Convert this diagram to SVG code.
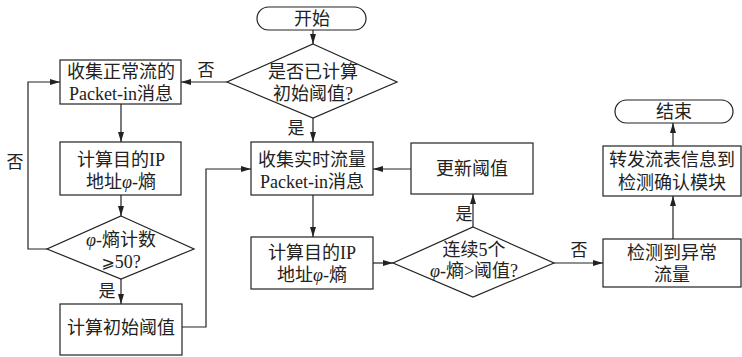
<svg xmlns="http://www.w3.org/2000/svg" width="742" height="357" viewBox="0 0 742 357">
  <style>
    .shape { fill: #fff; stroke: #222; stroke-width: 1.2; }
    .edge { fill: none; stroke: #222; stroke-width: 1.2; marker-end: url(#arrow); }
    text { font-family: "Liberation Serif", "Noto Sans CJK SC", serif; font-size: 18px; fill: #222; text-anchor: middle; }
    .lbl { font-size: 17px; }
    .phi { font-style: italic; }
    .geq { font-family: "DejaVu Serif", "DejaVu Sans", serif; font-size: 16px; }
  </style>
  <defs>
    <marker id="arrow" viewBox="0 0 10 6" refX="10" refY="3" markerWidth="10" markerHeight="6" markerUnits="userSpaceOnUse" orient="auto">
      <path d="M0,0 L10,3 L0,6 Z" fill="#222"/>
    </marker>
  </defs>

  <g id="connectors">
    <!-- start -> decision -->
    <path class="edge" d="M313,30 V44"/>
    <!-- decision: no -> collect normal flow -->
    <path class="edge" d="M227,82 H181"/>
    <!-- decision: yes -> collect live traffic -->
    <path class="edge" d="M313,118 V142"/>
    <!-- left column -->
    <path class="edge" d="M121,104 V142"/>
    <path class="edge" d="M121,195 V216"/>
    <path class="edge" d="M121,279 V304"/>
    <!-- count loop back -->
    <path class="edge" d="M47,249 H28 V82 H60"/>
    <!-- initial threshold -> live traffic -->
    <path class="edge" d="M182,327 H206 V169 H251"/>
    <!-- middle column -->
    <path class="edge" d="M313,195 V237"/>
    <path class="edge" d="M373,263 H393"/>
    <path class="edge" d="M473,227 V194"/>
    <path class="edge" d="M411,169 H373"/>
    <path class="edge" d="M554,263 H603"/>
    <!-- right column -->
    <path class="edge" d="M673,239 V196"/>
    <path class="edge" d="M673,146 V123"/>
    <!-- edge labels -->
    <text class="lbl" x="206" y="76">否</text>
    <text class="lbl" x="15" y="168">否</text>
    <text class="lbl" x="296" y="134">是</text>
    <text class="lbl" x="107" y="297">是</text>
    <text class="lbl" x="464" y="220">是</text>
    <text class="lbl" x="579" y="256">否</text>
  </g>

  <g id="start">
    <rect class="shape" x="257" y="7" width="109" height="23" rx="11.5"/>
    <text x="312" y="25">开始</text>
  </g>

  <g id="check-initial">
    <polygon class="shape" points="313,44 397,82 313,118 227,82"/>
    <text x="313" y="78">是否已计算</text>
    <text x="313" y="100">初始阈值?</text>
  </g>

  <g id="collect-normal">
    <rect class="shape" x="60" y="60" width="121" height="44"/>
    <text x="121" y="78">收集正常流的</text>
    <text x="121" y="100">Packet-in消息</text>
  </g>

  <g id="entropy-left">
    <rect class="shape" x="60" y="142" width="121" height="53"/>
    <text x="121" y="166">计算目的IP</text>
    <text x="121" y="188">地址<tspan class="phi">φ</tspan>-熵</text>
  </g>

  <g id="count-check">
    <polygon class="shape" points="121,216 194,249 121,279 47,249"/>
    <text x="121" y="246"><tspan class="phi">φ</tspan>-熵计数</text>
    <text x="121" y="268"><tspan class="geq">⩾</tspan>50?</text>
  </g>

  <g id="initial-threshold">
    <rect class="shape" x="60" y="304" width="122" height="51"/>
    <text x="121" y="334">计算初始阈值</text>
  </g>

  <g id="collect-live">
    <rect class="shape" x="251" y="142" width="122" height="53"/>
    <text x="312" y="166">收集实时流量</text>
    <text x="312" y="188">Packet-in消息</text>
  </g>

  <g id="entropy-middle">
    <rect class="shape" x="251" y="237" width="122" height="52"/>
    <text x="312" y="259">计算目的IP</text>
    <text x="312" y="281">地址<tspan class="phi">φ</tspan>-熵</text>
  </g>

  <g id="consecutive-check">
    <polygon class="shape" points="473,227 554,263 473,297 393,263"/>
    <text x="474" y="256">连续5个</text>
    <text x="474" y="277"><tspan class="phi">φ</tspan>-熵&gt;阈值?</text>
  </g>

  <g id="update-threshold">
    <rect class="shape" x="411" y="143" width="122" height="51"/>
    <text x="472" y="175">更新阈值</text>
  </g>

  <g id="anomaly">
    <rect class="shape" x="603" y="239" width="138" height="48"/>
    <text x="672" y="259">检测到异常</text>
    <text x="672" y="281">流量</text>
  </g>

  <g id="forward">
    <rect class="shape" x="603" y="146" width="138" height="50"/>
    <text x="672" y="166">转发流表信息到</text>
    <text x="672" y="189">检测确认模块</text>
  </g>

  <g id="end">
    <rect class="shape" x="615" y="100" width="118" height="23" rx="11.5"/>
    <text x="674" y="118">结束</text>
  </g>
</svg>
